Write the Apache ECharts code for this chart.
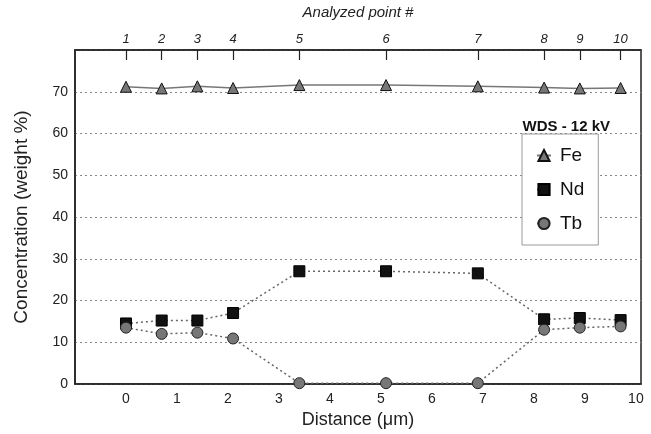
<!DOCTYPE html>
<html><head><meta charset="utf-8">
<script src="https://cdn.jsdelivr.net/npm/echarts@6/dist/echarts.min.js"></script>
<style>html,body{margin:0;padding:0;background:#fff}#c{width:651px;height:434px}</style>
</head><body><div id="c"></div>
<script>
const distance = [0, 0.7, 1.4, 2.1, 3.4, 5.1, 6.9, 8.2, 8.9, 9.7];
const pointLabels = ['1','2','3','4','5','6','7','8','9','10'];
const fe = [71.2, 70.8, 71.3, 70.9, 71.6, 71.6, 71.3, 71.0, 70.8, 70.9];
const nd = [14.5, 15.2, 15.2, 17.0, 27.0, 27.0, 26.5, 15.5, 15.8, 15.3];
const tb = [13.5, 12.0, 12.3, 10.9, 0.2, 0.2, 0.2, 13.0, 13.5, 13.8];
const yTicks = [0, 10, 20, 30, 40, 50, 60, 70];

const pair = arr => distance.map((d, i) => [d, arr[i]]);
const chart = echarts.init(document.getElementById('c'));
const font = 'Liberation Sans, Arial, sans-serif';
chart.setOption({
  animation: false,
  title: {
    text: 'WDS - 12 kV', right: 36, top: 114,
    textStyle: {fontFamily: font, fontSize: 15, fontWeight: 'bold', color: '#111'}
  },
  legend: {
    orient: 'vertical', left: 522, top: 134,
    width: 76,
    backgroundColor: '#fff', borderColor: '#999', borderWidth: 1,
    padding: [12, 14, 12, 14], itemGap: 15, itemWidth: 14, itemHeight: 14,
    textStyle: {fontFamily: font, fontSize: 19, color: '#111', padding: [0, 0, 0, 4]},
    data: ['Fe', 'Nd', 'Tb']
  },
  grid: {left: 75, right: 10, top: 47, bottom: 45, show: true, borderColor: '#222', borderWidth: 1.5, backgroundColor: 'transparent'},
  xAxis: [{
    type: 'value', min: -1, max: 10.1, interval: 1, position: 'bottom',
    name: 'Distance (\u03bcm)', nameLocation: 'middle', nameGap: 27,
    nameTextStyle: {fontFamily: font, fontSize: 18, color: '#222'},
    axisLine: {onZero: false, lineStyle: {color: '#222', width: 1.5}},
    axisTick: {show: false},
    splitLine: {show: false},
    axisLabel: {fontFamily: font, fontSize: 14, color: '#222', margin: 8,
      formatter: v => (v < 0 || v > 10) ? '' : String(v)}
  }, {
    type: 'value', min: -1, max: 10.1, position: 'top',
    name: 'Analyzed point #', nameLocation: 'middle', nameGap: 30,
    nameTextStyle: {fontFamily: font, fontSize: 15, fontStyle: 'italic', color: '#222'},
    axisLine: {onZero: false, lineStyle: {color: '#222', width: 1.5}},
    axisTick: {show: true, inside: true, length: 10, customValues: distance, lineStyle: {color: '#222', width: 1.2}},
    splitLine: {show: false},
    axisLabel: {fontFamily: font, fontSize: 13, fontStyle: 'italic', color: '#222', margin: 4,
      customValues: distance,
      formatter: v => { const i = distance.findIndex(d => Math.abs(d - v) < 1e-6); return i >= 0 ? pointLabels[i] : ''; }}
  }],
  yAxis: {
    type: 'value', min: 0, max: 80, interval: 10,
    name: 'Concentration (weight %)', nameLocation: 'middle', nameGap: 44,
    nameTextStyle: {fontFamily: font, fontSize: 19, color: '#222'},
    axisLine: {show: true, onZero: false, lineStyle: {color: '#222', width: 1.5}},
    axisTick: {show: false},
    splitLine: {show: true, lineStyle: {color: '#888', type: [2, 3], width: 1}},
    axisLabel: {fontFamily: font, fontSize: 14, color: '#222', margin: 7,
      formatter: v => yTicks.includes(v) ? String(v) : ''}
  },
  series: [{
    name: 'Fe', type: 'line', data: pair(fe), symbol: 'triangle', symbolSize: 11,
    lineStyle: {color: '#777', width: 1.5},
    itemStyle: {color: '#777', borderColor: '#111', borderWidth: 1}, z: 3
  }, {
    name: 'Nd', type: 'line', data: pair(nd), symbol: 'rect', symbolSize: 11,
    lineStyle: {color: '#666', width: 1.5, type: [2, 3]},
    itemStyle: {color: '#111', borderColor: '#000', borderWidth: 1}, z: 3
  }, {
    name: 'Tb', type: 'line', data: pair(tb), symbol: 'circle', symbolSize: 11,
    lineStyle: {color: '#666', width: 1.5, type: [2, 3]},
    itemStyle: {color: '#777', borderColor: '#222', borderWidth: 1}, z: 4
  }]
});
</script></body></html>
